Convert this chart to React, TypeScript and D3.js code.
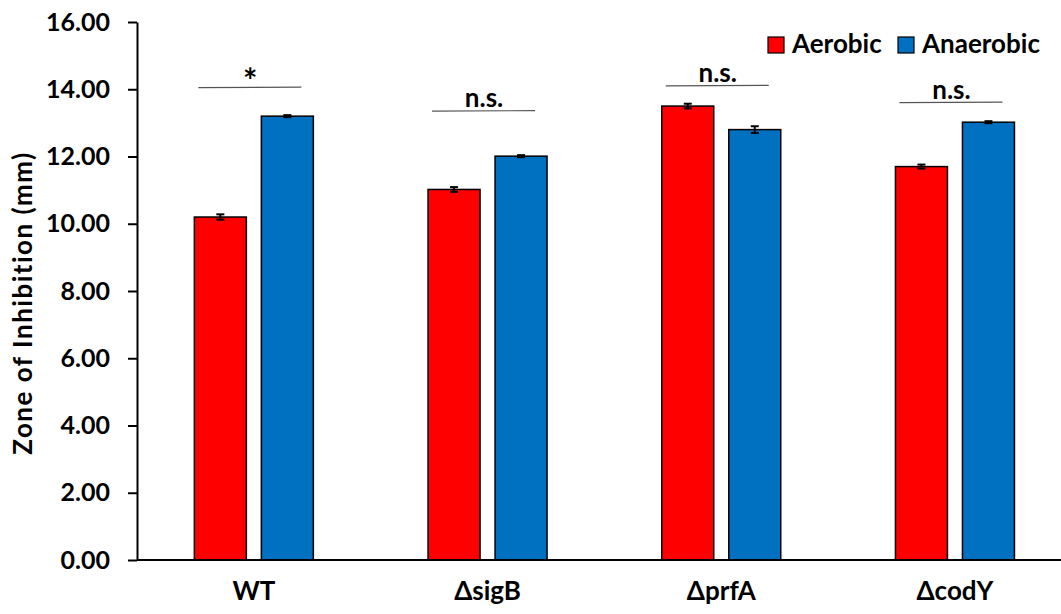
import React, { useRef, useEffect } from 'react';
import * as d3 from 'd3';

const categories = ['WT', '\u0394sigB', '\u0394prfA', '\u0394codY'];
const seriesNames = ['Aerobic', 'Anaerobic'];
const aerobic = [10.2, 11.02, 13.5, 11.7];
const anaerobic = [13.2, 12.01, 12.8, 13.02];
const aerobicErr = [0.08, 0.07, 0.07, 0.06];
const anaerobicErr = [0.03, 0.03, 0.1, 0.03];
const sigLabels = ['*', 'n.s.', 'n.s.', 'n.s.'];
const sigLevels = [14.05, 13.35, 14.1, 13.6];
const yTicks = [0, 2, 4, 6, 8, 10, 12, 14, 16];

const colors = ['#ff0000', '#0070c0'];
const FONT = "Lato, 'Open Sans', sans-serif";

export default function App() {
  const svgRef = useRef<SVGSVGElement>(null);

  useEffect(() => {
    const svg = d3.select(svgRef.current);
    svg.selectAll('*').remove();

    const width = 1061;
    const height = 614;
    const margin = { top: 22, left: 137, bottom: 54 };
    const step = 233.7;

    const x = d3.scaleBand()
      .domain(categories)
      .range([margin.left, margin.left + step * categories.length])
      .padding(0);
    const xInner = d3.scaleBand()
      .domain(seriesNames)
      .range([0, 119])
      .paddingInner(0.224)
      .paddingOuter(0);
    const y = d3.scaleLinear()
      .domain([0, 16])
      .range([height - margin.bottom, margin.top]);

    const groupLeft = (c: string) => (x(c) as number) + x.bandwidth() / 2 - 59.5;

    // bars
    const values = [aerobic, anaerobic];
    const errs = [aerobicErr, anaerobicErr];
    seriesNames.forEach((s, si) => {
      const g = svg.append('g');
      g.selectAll('rect')
        .data(categories)
        .join('rect')
        .attr('x', c => groupLeft(c) + (xInner(s) as number))
        .attr('y', (c, i) => y(values[si][i]))
        .attr('width', xInner.bandwidth())
        .attr('height', (c, i) => y(0) - y(values[si][i]))
        .attr('fill', colors[si])
        .attr('stroke', '#000')
        .attr('stroke-width', 1.5);

      // error bars
      categories.forEach((c, i) => {
        const cx = groupLeft(c) + (xInner(s) as number) + xInner.bandwidth() / 2;
        const v = values[si][i];
        const e = errs[si][i];
        g.append('line')
          .attr('x1', cx).attr('x2', cx)
          .attr('y1', y(v + e)).attr('y2', y(v - e))
          .attr('stroke', '#000').attr('stroke-width', 2);
        [v + e, v - e].forEach(ev => {
          g.append('line')
            .attr('x1', cx - 4).attr('x2', cx + 4)
            .attr('y1', y(ev)).attr('y2', y(ev))
            .attr('stroke', '#000').attr('stroke-width', 2);
        });
      });
    });

    // y axis
    const yAxis = d3.axisLeft(y)
      .tickValues(yTicks)
      .tickFormat(d3.format('.2f'))
      .tickSize(9)
      .tickSizeOuter(0)
      .tickPadding(18);
    const yg = svg.append('g')
      .attr('transform', `translate(${margin.left},0)`)
      .call(yAxis);
    yg.select('.domain').attr('stroke', '#000').attr('stroke-width', 2);
    yg.selectAll('.tick line').attr('stroke', '#000').attr('stroke-width', 2);
    yg.selectAll('.tick text')
      .attr('font-family', FONT)
      .attr('font-weight', 'bold')
      .attr('font-size', 25)
      .attr('fill', '#000');

    // x axis
    const xAxis = d3.axisBottom(x).tickSize(0).tickPadding(22);
    const xg = svg.append('g')
      .attr('transform', `translate(0,${y(0)})`)
      .call(xAxis);
    xg.select('.domain').remove();
    xg.append('line')
      .attr('x1', margin.left).attr('x2', width)
      .attr('y1', 0).attr('y2', 0)
      .attr('stroke', '#000').attr('stroke-width', 2);
    xg.selectAll('.tick text')
      .attr('font-family', FONT)
      .attr('font-weight', 'bold')
      .attr('font-size', 26)
      .attr('fill', '#000');

    // y title
    svg.append('text')
      .attr('transform', `translate(22,${(y(0) + y(16)) / 2 + 12}) rotate(-90)`)
      .attr('text-anchor', 'middle')
      .attr('dominant-baseline', 'central')
      .attr('font-family', FONT)
      .attr('font-weight', 'bold')
      .attr('font-size', 26)
      .attr('letter-spacing', 1.5)
      .text('Zone of Inhibition (mm)');

    // significance markers
    categories.forEach((c, i) => {
      const left = groupLeft(c);
      const ly = y(sigLevels[i]);
      const isStar = sigLabels[i] === '*';
      svg.append('line')
        .attr('x1', left + 4).attr('x2', left + 107)
        .attr('y1', ly).attr('y2', ly - 0.5)
        .attr('stroke', '#555').attr('stroke-width', 1.2);
      svg.append('text')
        .attr('x', left + 56)
        .attr('y', isStar ? ly + 5 : ly - 4)
        .attr('text-anchor', 'middle')
        .attr('font-family', FONT)
        .attr('font-weight', 'bold')
        .attr('font-size', isStar ? 34 : 26)
        .text(sigLabels[i]);
    });

    // legend
    const legendX = [768, 898];
    seriesNames.forEach((s, si) => {
      const lg = svg.append('g').attr('transform', `translate(${legendX[si]},37)`);
      lg.append('rect')
        .attr('width', 16).attr('height', 16)
        .attr('fill', colors[si])
        .attr('stroke', '#000')
        .attr('stroke-width', 1.2);
      lg.append('text')
        .attr('x', 24).attr('y', 16)
        .attr('font-family', FONT)
        .attr('font-weight', 'bold')
        .attr('font-size', 26)
        .text(s);
    });
  }, []);

  return (
    <svg
      ref={svgRef}
      width={1061}
      height={614}
      style={{ position: 'absolute', left: 0, top: 0, background: '#fff' }}
    />
  );
}
